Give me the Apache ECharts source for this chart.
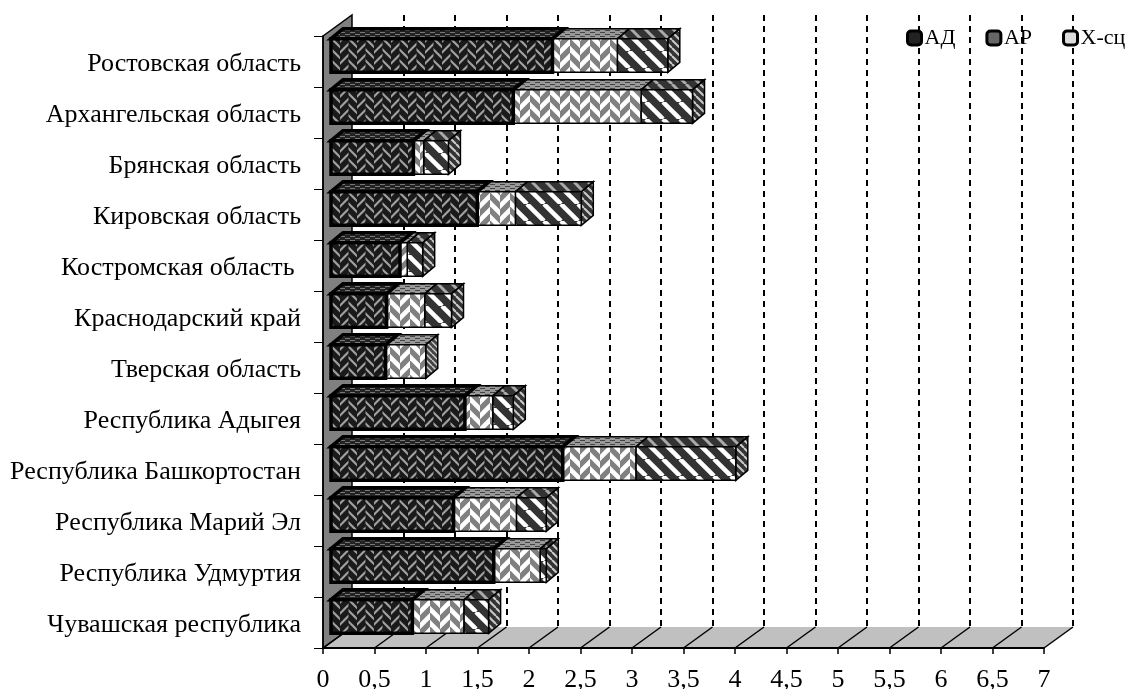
<!DOCTYPE html>
<html>
<head>
<meta charset="utf-8">
<title>chart</title>
<script src="https://cdn.jsdelivr.net/npm/echarts@6/dist/echarts.min.js"></script>
<style>
  html, body { margin: 0; padding: 0; background: #fff; }
  #chart { width: 1129px; height: 689px; }
</style>
</head>
<body>
<div id="chart"></div>
<script>
const categories = [
  'Ростовская область', 'Архангельская область', 'Брянская область', 'Кировская область',
  'Костромская область ', 'Краснодарский край', 'Тверская область', 'Республика Адыгея',
  'Республика Башкортостан', 'Республика Марий Эл', 'Республика Удмуртия', 'Чувашская республика'
];
const adValues = [2.15, 1.77, 0.80, 1.42, 0.67, 0.54, 0.53, 1.30, 2.25, 1.19, 1.58, 0.79];
const arValues = [0.63, 1.24, 0.10, 0.37, 0.07, 0.37, 0.39, 0.27, 0.71, 0.61, 0.45, 0.50];
const xcValues = [0.49, 0.50, 0.24, 0.64, 0.15, 0.26, 0, 0.20, 0.97, 0.29, 0.06, 0.24];
const axisTicks = [0, 0.5, 1, 1.5, 2, 2.5, 3, 3.5, 4, 4.5, 5, 5.5, 6, 6.5, 7];

const FONT = '"Liberation Serif", "Times New Roman", serif';
const WALL_DX = 29, WALL_DY = -21;   // depth of the 3d box
const BAR_DX = 8, BAR_DY = -6;       // bars sit a bit inside the box
const TOP_DX = 12, TOP_DY = -10;     // depth of the bars themselves

// tiles for the hatch fills
function tile(w, h, bg, draw) {
  const c = document.createElement('canvas');
  c.width = w; c.height = h;
  const g = c.getContext('2d');
  g.fillStyle = bg;
  g.fillRect(0, 0, w, h);
  draw(g);
  return { image: c, repeat: 'repeat' };
}
// broken chevrons: two columns of slanted strokes, shifted half a row
function weave(w, h, bg, fg, lw) {
  const half = w / 2;
  return tile(w, h, bg, g => {
    g.strokeStyle = fg; g.lineWidth = lw;
    [0, 1].forEach(col => {
      g.save();
      g.beginPath();
      g.rect(col * half, 0, half, h);
      g.clip();
      for (let y = -2 * h; y <= 3 * h; y += h) {
        const yy = y + col * h / 2;
        g.beginPath();
        if (col === 0) { g.moveTo(-2, yy + half + 2); g.lineTo(half + 2, yy - 2); }
        else { g.moveTo(half - 2, yy - 2); g.lineTo(w + 2, yy + half + 2); }
        g.stroke();
      }
      g.restore();
    });
  });
}
function stripes(p, bg, fg, lw) {
  return tile(p, p, bg, g => {
    g.strokeStyle = fg; g.lineWidth = lw;
    for (let o = -p; o <= p; o += p) {
      g.beginPath();
      g.moveTo(o, 0); g.lineTo(o + p, p);
      g.stroke();
    }
  });
}
function dashes(w, h, bg, fg) {
  return tile(w, h, bg, g => {
    g.fillStyle = fg;
    g.fillRect(0, 0, w / 2, 1);
    g.fillRect(w / 2, 2, w / 2, 1);
  });
}

const looks = {
  ad: {
    front: weave(17, 11, '#1a1a1a', '#a0a0a0', 2.2),
    top: dashes(10, 4, '#222', '#777'),
    side: stripes(6, '#222', '#888', 1.5),
    border: 3.5
  },
  ar: {
    front: weave(20, 14, '#808080', '#fff', 4.6),
    top: dashes(10, 4, '#999', '#444'),
    side: stripes(6, '#444', '#ccc', 1.5),
    border: 1.5
  },
  xc: {
    front: stripes(17, '#333', '#fff', 4.5),
    top: stripes(14, '#333', '#aaa', 3),
    side: stripes(8, '#333', '#ccc', 2),
    border: 1.5
  }
};

function startsOf(key) {
  return categories.map((_, i) => {
    if (key === 'ad') return 0;
    if (key === 'ar') return adValues[i];
    return adValues[i] + arValues[i];
  });
}

// the side face only shows on the last piece of a stack
function isLastPiece(key, i) {
  if (key === 'xc') return true;
  if (key === 'ar') return xcValues[i] === 0;
  return false;
}

function stackSeries(name, key, values, z) {
  const starts = startsOf(key);
  return {
    name: name,
    type: 'custom',
    xAxisIndex: 0,
    yAxisIndex: 0,
    z: z,
    itemStyle: { color: looks[key].front },
    encode: { x: [0, 1], y: 2 },
    data: values.map((v, i) => [starts[i], starts[i] + v, i]),
    renderItem: (params, api) => {
      if (api.value(1) <= api.value(0)) return null;
      const a = api.coord([api.value(0), api.value(2)]);
      const b = api.coord([api.value(1), api.value(2)]);
      const h = api.size([0, 1])[1] * 0.66;
      const x0 = a[0] + BAR_DX, x1 = b[0] + BAR_DX;
      const y0 = a[1] + BAR_DY - h / 2, y1 = y0 + h;
      const look = looks[key];
      const edge = { stroke: '#000', lineWidth: look.border, lineJoin: 'miter' };
      const children = [
        {
          type: 'polygon',
          shape: { points: [[x0, y0], [x0 + TOP_DX, y0 + TOP_DY], [x1 + TOP_DX, y0 + TOP_DY], [x1, y0]] },
          style: { fill: look.top, ...edge }
        },
        {
          type: 'rect',
          shape: { x: x0, y: y0, width: x1 - x0, height: h },
          style: { fill: look.front, ...edge }
        }
      ];
      if (isLastPiece(key, api.value(2))) {
        children.unshift({
          type: 'polygon',
          shape: { points: [[x1, y0], [x1 + TOP_DX, y0 + TOP_DY], [x1 + TOP_DX, y1 + TOP_DY], [x1, y1]] },
          style: { fill: look.side, stroke: '#000', lineWidth: 1.5 }
        });
      }
      return { type: 'group', children };
    }
  };
}

const chart = echarts.init(document.getElementById('chart'));

chart.setOption({
  animation: false,
  backgroundColor: '#fff',
  grid: [
    { left: 323, top: 36, width: 721, height: 612, outerBoundsMode: 'none' },
    { left: 323 + WALL_DX, top: 36 + WALL_DY, width: 721, height: 612, outerBoundsMode: 'none' }
  ],
  legend: {
    left: 906,
    top: 27,
    width: 300,
    padding: 0,
    itemWidth: 14,
    itemHeight: 14,
    itemGap: 30,
    textStyle: { fontFamily: FONT, fontSize: 22, color: '#000', padding: [3, 0, 0, -2] },
    data: [
      { name: 'АД', icon: 'roundRect', itemStyle: { color: '#222', borderColor: '#000', borderWidth: 3 } },
      { name: 'АР', icon: 'roundRect', itemStyle: { color: '#666', borderColor: '#000', borderWidth: 3 } },
      { name: 'Х-сц', icon: 'roundRect', itemStyle: { color: '#ddd', borderColor: '#000', borderWidth: 3 } }
    ]
  },
  xAxis: [
    {
      type: 'value',
      gridIndex: 0,
      min: 0,
      max: 7,
      interval: 0.5,
      z: 5,
      splitLine: { show: false },
      axisLine: { show: true, onZero: false, lineStyle: { color: '#000', width: 2 } },
      axisTick: { show: true, length: 6, lineStyle: { color: '#000', width: 1.5 } },
      axisLabel: {
        margin: 19,
        fontFamily: FONT,
        fontSize: 26,
        color: '#000',
        showMinLabel: true,
        showMaxLabel: true,
        formatter: v => String(v).replace('.', ',')
      }
    },
    {
      type: 'value',
      gridIndex: 1,
      min: 0,
      max: 7,
      interval: 0.5,
      axisLine: { show: false },
      axisTick: { show: false },
      axisLabel: { show: false },
      splitLine: { show: true, showMinLine: false, lineStyle: { color: '#000', width: 2, type: [6, 5] } }
    }
  ],
  yAxis: [
    {
      type: 'category',
      gridIndex: 0,
      inverse: true,
      data: categories,
      z: 5,
      splitLine: { show: false },
      axisLine: { show: true, lineStyle: { color: '#000', width: 1.5 } },
      axisTick: { show: true, length: 9, lineStyle: { color: '#000', width: 1 } },
      axisLabel: {
        interval: 0,
        margin: 22,
        fontFamily: FONT,
        fontSize: 26,
        color: '#000',
        verticalAlign: 'top',
        padding: [-10, 0, 0, 0]
      }
    },
    {
      type: 'value',
      gridIndex: 1,
      min: 0,
      max: 1,
      axisLine: { show: false },
      axisTick: { show: false },
      axisLabel: { show: false },
      splitLine: { show: false }
    }
  ],
  series: [
    {
      // back wall and floor of the box
      type: 'custom',
      xAxisIndex: 0,
      yAxisIndex: 0,
      z: 1,
      silent: true,
      data: [[0, 7]],
      encode: { x: [0, 1] },
      renderItem: (params) => {
        const r = params.coordSys;
        const bottom = r.y + r.height, right = r.x + r.width;
        return {
          type: 'group',
          children: [
            {
              type: 'polygon',
              shape: { points: [[r.x, bottom], [r.x + WALL_DX, bottom + WALL_DY], [right + WALL_DX, bottom + WALL_DY], [right, bottom]] },
              style: { fill: '#c0c0c0' }
            },
            {
              type: 'polygon',
              shape: { points: [[r.x, r.y], [r.x + WALL_DX, r.y + WALL_DY], [r.x + WALL_DX, bottom + WALL_DY], [r.x, bottom]] },
              style: { fill: '#808080', stroke: '#000', lineWidth: 1.5 }
            }
          ]
        };
      }
    },
    {
      // the slanted lines on the floor
      type: 'custom',
      xAxisIndex: 0,
      yAxisIndex: 0,
      z: 1,
      silent: true,
      data: axisTicks.map(t => [t, categories.length - 1]),
      encode: { x: 0, y: 1 },
      renderItem: (params, api) => {
        const x = api.coord([api.value(0), 0])[0];
        const bottom = params.coordSys.y + params.coordSys.height;
        return {
          type: 'line',
          shape: { x1: x, y1: bottom, x2: x + WALL_DX, y2: bottom + WALL_DY },
          style: { stroke: '#000', lineWidth: 1.5 }
        };
      }
    },
    stackSeries('Х-сц', 'xc', xcValues, 2),
    stackSeries('АР', 'ar', arValues, 3),
    stackSeries('АД', 'ad', adValues, 4)
  ]
});
</script>
</body>
</html>
